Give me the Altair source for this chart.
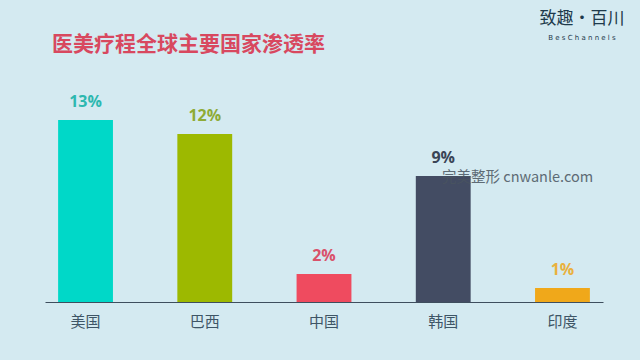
import altair as alt
import pandas as pd

countries = ["美国", "巴西", "中国", "韩国", "印度"]
rates = [13, 12, 2, 9, 1]
labels = ["13%", "12%", "2%", "9%", "1%"]
bar_colors = ["#00D8C8", "#9DB900", "#EF4B5F", "#434C63", "#F0A81A"]
label_colors = ["#2DB8B0", "#8EAB36", "#D9526A", "#3A4556", "#E9B13E"]

df = pd.DataFrame({"country": countries, "rate": rates, "label": labels,
                   "bc": bar_colors, "lc": label_colors})

FONT = "Noto Sans CJK SC"
W, H = 558, 210

x = alt.X("country:N", sort=countries,
          scale=alt.Scale(paddingInner=0.54, paddingOuter=0.11),
          axis=alt.Axis(title=None, labelAngle=0, ticks=False, labelFont=FONT,
                        labelFontSize=15, labelColor="#3E5566", labelPadding=12,
                        domainColor="#3E4E5E", domainWidth=1.2, grid=False))
y = alt.Y("rate:Q", scale=alt.Scale(domain=[0, 15]), axis=None)

base = alt.Chart(df)
bars = base.mark_bar().encode(x=x, y=y, color=alt.Color("bc:N", scale=None))
text = base.mark_text(dy=-18, font="Open Sans", fontWeight="bold", fontSize=16).encode(
    x=x, y=y, text="label:N", color=alt.Color("lc:N", scale=None))

ann = pd.DataFrame({"t": ["医美疗程全球主要国家渗透率"]})
title = alt.Chart(ann).mark_text(align="left", baseline="middle", font=FONT,
                                 fontWeight="bold", fontSize=21, color="#D8485F").encode(
    text="t:N", x=alt.value(7), y=alt.value(-47))

logo1 = alt.Chart(pd.DataFrame({"t": ["致趣·百川"]})).mark_text(
    align="center", baseline="middle", font=FONT, fontSize=17, color="#1E3A4C").encode(
    text="t:N", x=alt.value(537), y=alt.value(-73))
logo2 = alt.Chart(pd.DataFrame({"t": ["B e s C h a n n e l s"]})).mark_text(
    align="center", baseline="middle", font="DejaVu Sans", fontSize=7, color="#1E3A4C").encode(
    text="t:N", x=alt.value(537), y=alt.value(-54))
wm = alt.Chart(pd.DataFrame({"t": ["完美整形 cnwanle.com"]})).mark_text(
    align="left", baseline="middle", font=FONT, fontSize=14.5, color="#4A5560", opacity=0.85).encode(
    text="t:N", x=alt.value(397), y=alt.value(86))

chart = alt.layer(bars, text, title, logo1, logo2, wm).properties(
    width=W, height=H, background="#D4EAF1",
    padding={"left": 45, "top": 92, "right": 37, "bottom": 58},
    autosize=alt.AutoSizeParams(type="none")
).configure_view(stroke=None)

chart.save("out.html", embed_options={"renderer": "svg", "actions": False})
